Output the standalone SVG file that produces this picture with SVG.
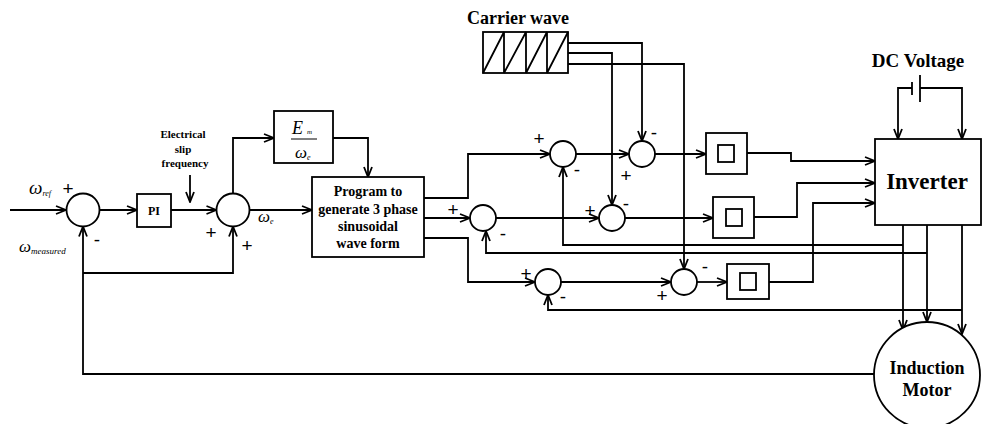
<svg xmlns="http://www.w3.org/2000/svg" width="982" height="424" viewBox="0 0 982 424">
<defs>
<marker id="arr" markerWidth="12" markerHeight="10" refX="11" refY="5" orient="auto" markerUnits="userSpaceOnUse">
<path d="M1,1 L11,5 L1,9" fill="none" stroke="#000" stroke-width="1.8"/>
</marker>
<style>
.ln{fill:none;stroke:#000;stroke-width:1.8}
.a{marker-end:url(#arr)}
.bx{fill:#fff;stroke:#000;stroke-width:1.8}
.b{font-family:"Liberation Serif",serif;font-weight:bold;fill:#000;text-anchor:middle}
.s{font-family:"Liberation Sans",sans-serif;font-size:19px;fill:#000;text-anchor:middle}
.w{font-family:"Liberation Serif",serif;font-style:italic;fill:#000}
</style>
</defs>
<rect width="982" height="424" fill="#fff"/>
<g id="connectors" class="ln">
<path class="a" d="M10,210 H66"/>
<path class="a" d="M99.5,210 H137"/>
<path class="a" d="M171,210 H216.5"/>
<path class="a" d="M190,175 V202"/>
<path class="a" d="M233,193.5 V138 H274"/>
<path class="a" d="M333,138 H368 V177"/>
<path class="a" d="M249.5,210 H312"/>
<path class="a" d="M83,273 H233 V226.5"/>
<path class="a" d="M874,374 H83 V226.5"/>
<path class="a" d="M424,198 H468 V154 H550"/>
<path class="a" d="M576,154 H629"/>
<path class="a" d="M568,43 H642 V141"/>
<path class="a" d="M655,154 H706"/>
<path class="a" d="M747,153 H791 V161 H875"/>
<path class="a" d="M424,218 H470"/>
<path class="a" d="M496,218 H599"/>
<path class="a" d="M568,53 H612 V205"/>
<path class="a" d="M625,218 H713"/>
<path class="a" d="M754,217 H797 V183 H875"/>
<path class="a" d="M424,238 H468 V282 H535"/>
<path class="a" d="M561,282 H671"/>
<path class="a" d="M568,64 H684 V269"/>
<path class="a" d="M697,282 H727"/>
<path class="a" d="M769,282 H813 V203 H875"/>
<path class="a" d="M903,245 H563 V167"/>
<path class="a" d="M927,253 H486 V231"/>
<path class="a" d="M962,310 H548 V295"/>
<path class="a" d="M903,225 V330"/>
<path class="a" d="M927,225 V322"/>
<path class="a" d="M962,225 V334"/>
<path class="a" d="M912,88 H898 V139"/>
<path class="a" d="M920,88 H962 V139"/>
<path d="M912,82 V95 M920,75 V102"/>
</g>
<g id="sum1"><circle class="bx" cx="83" cy="210" r="16.5"/>
<text class="s" x="68" y="195">+</text><text class="s" x="97" y="246">-</text></g>
<g id="wref"><text class="w" x="29" y="194" font-size="19">ω<tspan font-size="8" dy="2">ref</tspan></text></g>
<g id="wmeas"><text class="w" x="19" y="252" font-size="17">ω<tspan font-size="9" dy="2">measured</tspan></text></g>
<g id="pi"><rect class="bx" x="137" y="194" width="34" height="33"/><text class="b" x="154" y="215" font-size="12">PI</text></g>
<g id="slip"><text class="b" font-size="11"><tspan x="183" y="138">Electrical</tspan><tspan x="183" y="153">slip</tspan><tspan x="185" y="167">frequency</tspan></text></g>
<g id="sum2"><circle class="bx" cx="233" cy="210" r="16.5"/>
<text class="s" x="211" y="239">+</text><text class="s" x="247" y="252">+</text></g>
<g id="we"><text class="w" x="258" y="222" font-size="17">ω<tspan font-size="8" dy="2">e</tspan></text></g>
<g id="emw"><rect class="bx" x="274" y="111" width="59" height="52"/>
<text class="w" x="292" y="134" font-size="18">E</text><text class="w" x="307" y="134" font-size="7">m</text>
<line x1="291" y1="139" x2="317" y2="139" stroke="#000" stroke-width="1"/>
<text class="w" x="295" y="158" font-size="17">ω<tspan font-size="8" dy="2">e</tspan></text></g>
<g id="program"><rect class="bx" x="312" y="177" width="112" height="80"/>
<text class="b" font-size="14"><tspan x="368" y="196">Program to</tspan><tspan x="368" y="214">generate 3 phase</tspan><tspan x="368" y="231">sinusoidal</tspan><tspan x="368" y="248">wave form</tspan></text></g>
<g id="carrier"><text class="b" x="518" y="24" font-size="18">Carrier wave</text>
<rect class="bx" x="483" y="32" width="85" height="41"/>
<path class="ln" d="M504,32 V73 M526,32 V73 M547,32 V73 M483,73 L504,32 M504,73 L526,32 M526,73 L547,32 M547,73 L568,32"/></g>
<g id="sumA"><circle class="bx" cx="563" cy="154" r="13"/><text class="s" x="539" y="145">+</text><text class="s" x="577" y="176">-</text></g>
<g id="sumB"><circle class="bx" cx="642" cy="154" r="13"/><text class="s" x="654" y="139">-</text><text class="s" x="626" y="182">+</text></g>
<g id="sumC"><circle class="bx" cx="483" cy="218" r="13"/><text class="s" x="453" y="216">+</text><text class="s" x="503" y="240">-</text></g>
<g id="sumD"><circle class="bx" cx="612" cy="218" r="13"/><text class="s" x="590" y="217">+</text><text class="s" x="626" y="210">-</text></g>
<g id="sumE"><circle class="bx" cx="548" cy="282" r="13"/><text class="s" x="526" y="280">+</text><text class="s" x="563" y="303">-</text></g>
<g id="sumF"><circle class="bx" cx="684" cy="282" r="13"/><text class="s" x="705" y="273">-</text><text class="s" x="662" y="302">+</text></g>
<g id="box1"><rect class="bx" x="706" y="133" width="41" height="41"/><rect class="bx" x="718" y="145" width="16" height="17"/></g>
<g id="box2"><rect class="bx" x="713" y="197" width="41" height="41"/><rect class="bx" x="726" y="209" width="16" height="17"/></g>
<g id="box3"><rect class="bx" x="727" y="264" width="42" height="35"/><rect class="bx" x="740" y="273" width="16" height="17"/></g>
<g id="dc"><text class="b" x="918" y="67" font-size="19">DC Voltage</text></g>
<g id="inverter"><rect class="bx" x="875" y="139" width="106" height="86"/><text class="b" x="927" y="189" font-size="23">Inverter</text></g>
<g id="motor"><circle class="bx" cx="927" cy="375" r="53"/><text class="b" font-size="18"><tspan x="927" y="374">Induction</tspan><tspan x="927" y="396">Motor</tspan></text></g>
</svg>
